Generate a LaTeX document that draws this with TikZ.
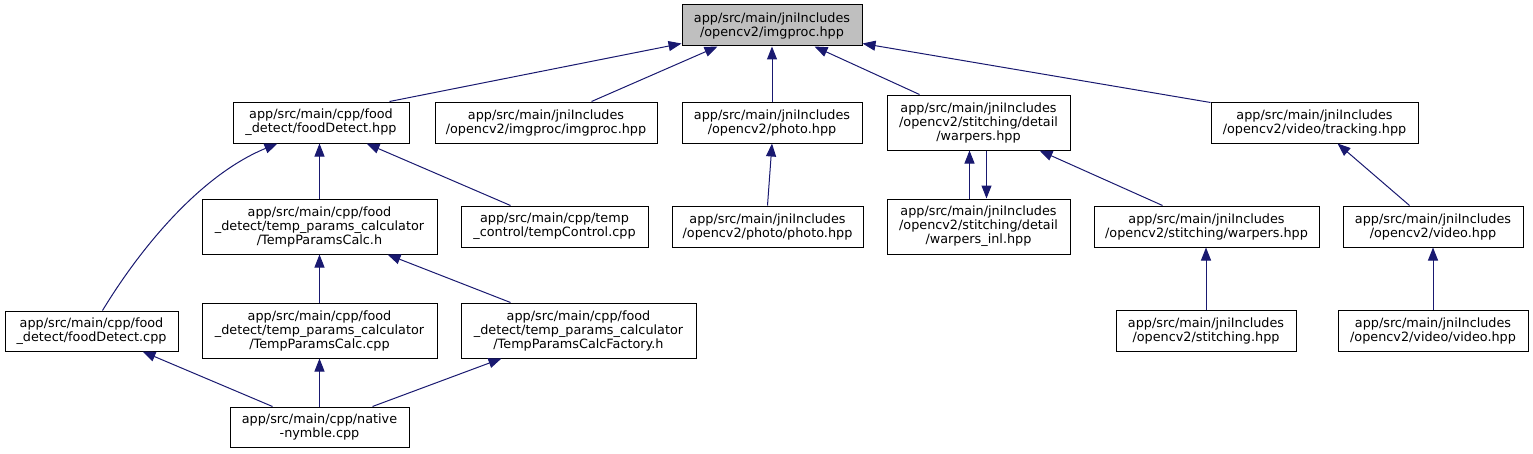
\documentclass[tikz,border=0pt]{standalone}
\usepackage{fontspec}
\setmainfont{DejaVu Sans}
\usetikzlibrary{arrows.meta,calc}
\definecolor{edgeblue}{HTML}{191970}
\definecolor{rootgray}{HTML}{BFBFBF}
\newcommand\bx[6][]{\node[box,#1,minimum width={(#4-#2)*0.75pt},minimum height={(#5-#3)*0.75pt}] (#6) at ({(#2+#4)/2},{(#3+#5)/2})}
\begin{document}
\begin{tikzpicture}[x=0.75pt,y=-0.75pt,
  box/.style={draw=black,line width=0.75pt,fill=white,inner sep=0pt,align=center,
    font=\fontsize{9.6pt}{10.5pt}\selectfont},
  edge/.style={draw=edgeblue,line width=0.75pt,-{Triangle[length=9.75pt,width=7.5pt]}}]
\useasboundingbox (0,0) rectangle (1533,453);
% nodes
\bx[fill=rootgray]{682}{5}{862}{46}{root}{app/src/main/jniIncludes\\/opencv2/imgproc.hpp};
\bx{233}{102}{409}{143}{fdh}{app/src/main/cpp/food\\\_detect/foodDetect.hpp};
\bx{435}{102}{657}{143}{iptwo}{app/src/main/jniIncludes\\/opencv2/imgproc/imgproc.hpp};
\bx{682}{102}{862}{143}{ph}{app/src/main/jniIncludes\\/opencv2/photo.hpp};
\bx{887}{95}{1070}{150}{wp}{app/src/main/jniIncludes\\/opencv2/stitching/detail\\/warpers.hpp};
\bx{1211}{102}{1418}{143}{tr}{app/src/main/jniIncludes\\/opencv2/video/tracking.hpp};
\bx{202}{199}{437}{254}{tpch}{app/src/main/cpp/food\\\_detect/temp\_params\_calculator\\/TempParamsCalc.h};
\bx{461}{206}{648}{247}{tc}{app/src/main/cpp/temp\\\_control/tempControl.cpp};
\bx{672}{206}{863}{247}{php}{app/src/main/jniIncludes\\/opencv2/photo/photo.hpp};
\bx{887}{199}{1070}{254}{wpi}{app/src/main/jniIncludes\\/opencv2/stitching/detail\\/warpers\_inl.hpp};
\bx{1094}{206}{1319}{247}{swp}{app/src/main/jniIncludes\\/opencv2/stitching/warpers.hpp};
\bx{1343}{206}{1523}{247}{vid}{app/src/main/jniIncludes\\/opencv2/video.hpp};
\bx{5}{311}{178}{351}{fdc}{app/src/main/cpp/food\\\_detect/foodDetect.cpp};
\bx{202}{303}{437}{358}{tpcc}{app/src/main/cpp/food\\\_detect/temp\_params\_calculator\\/TempParamsCalc.cpp};
\bx{461}{303}{696}{358}{fac}{app/src/main/cpp/food\\\_detect/temp\_params\_calculator\\/TempParamsCalcFactory.h};
\bx{1116}{310}{1296}{351}{st}{app/src/main/jniIncludes\\/opencv2/stitching.hpp};
\bx{1338}{310}{1528}{351}{vv}{app/src/main/jniIncludes\\/opencv2/video/video.hpp};
\bx{230}{407}{409}{447}{nat}{app/src/main/cpp/native\\-nymble.cpp};
% edges
\draw[edge] ($(fdh.north west)+(157,0)$) -- ($(root.south west)+(0,-3)$);
\draw[edge] ($(iptwo.north west)+(157,0)$) -- ($(root.south west)+(36,0)$);
\draw[edge] (ph.north) -- (root.south);
\draw[edge] ($(wp.north west)+(33,0)$) -- ($(root.south west)+(133,0)$);
\draw[edge] ($(tr.north west)+(0,1)$) -- ($(root.south east)+(0,-3)$);
\draw[edge] ($(fdc.north west)+(98,0)$) .. controls +(37,-61) and +(-78,32) .. ($(fdh.south west)+(45,0)$);
\draw[edge] (tpch.north) -- (tpch.north |- fdh.south);
\draw[edge] ($(tc.north west)+(50,0)$) -- ($(fdh.south west)+(134,0)$);
\draw[edge] (tpcc.north) -- (tpch.south);
\draw[edge] ($(fac.north west)+(50,0)$) -- ($(tpch.south west)+(186,0)$);
\draw[edge] ($(nat.north west)+(43,0)$) -- ($(fdc.south west)+(138,0)$);
\draw[edge] (nat.north) -- (tpcc.south);
\draw[edge] ($(nat.north west)+(143,0)$) -- ($(fac.south west)+(41,0)$);
\draw[edge] ($(php.north west)+(96,0)$) -- (ph.south);
\draw[edge] ($(wpi.north west)+(83,0)$) -- ($(wp.south west)+(83,0)$);
\draw[edge] ($(wp.south west)+(100,0)$) -- ($(wpi.north west)+(100,0)$);
\draw[edge] ($(swp.north west)+(69,0)$) -- ($(wp.south west)+(153,0)$);
\draw[edge] ($(vid.north west)+(67,0)$) -- ($(tr.south west)+(127,0)$);
\draw[edge] (st.north) -- (st.north |- swp.south);
\draw[edge] (vv.north) -- (vv.north |- vid.south);
\end{tikzpicture}
\end{document}
